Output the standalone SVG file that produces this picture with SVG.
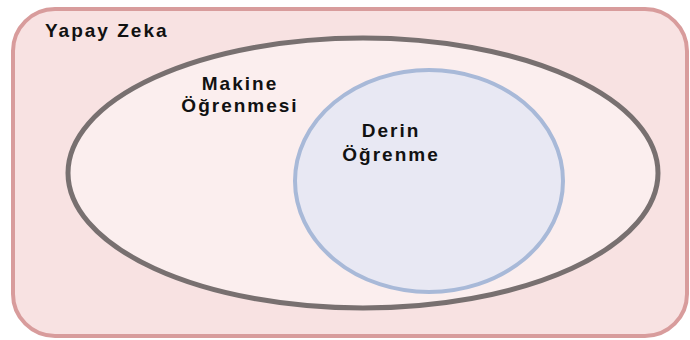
<svg xmlns="http://www.w3.org/2000/svg" width="690" height="340" viewBox="0 0 690 340">
<style>
text{font-family:"Liberation Sans",Arial,sans-serif;font-weight:bold;font-size:19px;letter-spacing:2px;fill:#111;}
</style>
<rect width="690" height="340" fill="#ffffff"/>
<g id="yapay-zeka">
<rect x="13" y="9" width="674" height="327" rx="42" fill="#f8e2e2" stroke="#d89c9c" stroke-width="4"/>
<text x="45" y="37">Yapay Zeka</text>
</g>
<g id="makine-ogrenmesi">
<ellipse cx="363" cy="173" rx="295" ry="135" fill="#fbeeee" stroke="#787070" stroke-width="5"/>
<text x="240" y="90" text-anchor="middle">Makine</text>
<text x="240" y="112" text-anchor="middle">Öğrenmesi</text>
</g>
<g id="derin-ogrenme">
<ellipse cx="429" cy="181" rx="134" ry="111" fill="#e8e8f3" stroke="#a8b9d8" stroke-width="4"/>
<text x="391" y="137" text-anchor="middle">Derin</text>
<text x="391" y="161" text-anchor="middle">Öğrenme</text>
</g>
<g id="connectors"></g>
</svg>
